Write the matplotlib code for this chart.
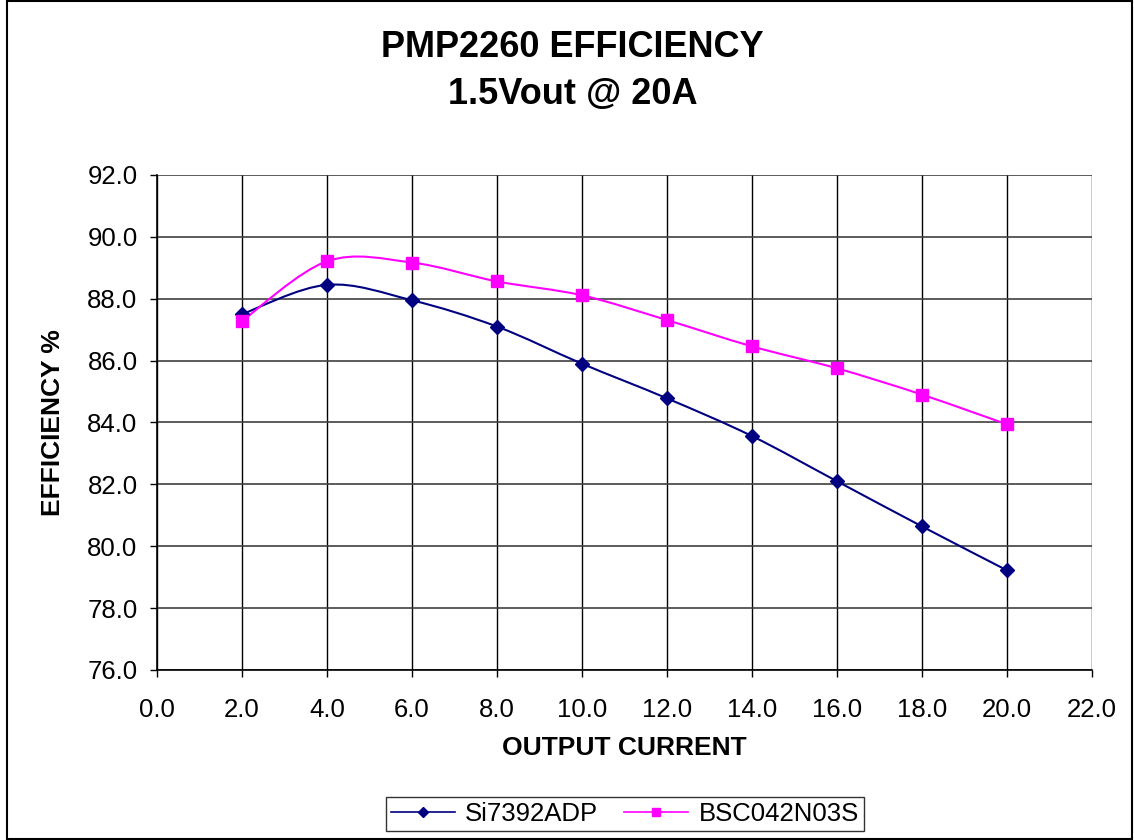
import matplotlib.pyplot as plt
import numpy as np
from matplotlib.path import Path
from matplotlib.patches import PathPatch, Rectangle
from matplotlib.lines import Line2D

plt.rcParams['font.family'] = ['Liberation Sans', 'DejaVu Sans']

current = [2.0, 4.0, 6.0, 8.0, 10.0, 12.0, 14.0, 16.0, 18.0, 20.0]
si7392 = [87.50, 88.45, 87.95, 87.10, 85.90, 84.78, 83.56, 82.10, 80.64, 79.22]
bsc042 = [87.28, 89.21, 89.17, 88.56, 88.11, 87.31, 86.46, 85.75, 84.90, 83.94]

series_names = ['Si7392ADP', 'BSC042N03S']
x_ticks = np.arange(0, 22.1, 2)
y_ticks = np.arange(76, 92.1, 2)


def smooth_path(x, y):
    # Excel-like smoothed line: cubic bezier through the points
    pts = np.column_stack([x, y])
    n = len(pts)
    verts = [pts[0]]
    codes = [Path.MOVETO]
    for i in range(n - 1):
        p0 = pts[i - 1] if i > 0 else pts[i]
        p3 = pts[i + 2] if i + 2 < n else pts[i + 1]
        c1 = pts[i] + (pts[i + 1] - p0) / 6
        c2 = pts[i + 1] - (p3 - pts[i]) / 6
        verts += [c1, c2, pts[i + 1]]
        codes += [Path.CURVE4] * 3
    return Path(verts, codes)


fig = plt.figure(figsize=(11.34, 8.4), dpi=100)
ax = fig.add_axes([0.1384, 0.2024, 0.963 - 0.1384, 0.7917 - 0.2024])

styles = [
    dict(color='#000080', marker='D', ms=7.5),
    dict(color='#FF00FF', marker='s', ms=8),
]
handles = []
for vals, name, st in zip([si7392, bsc042], series_names, styles):
    ax.add_patch(PathPatch(smooth_path(current, vals), fill=False,
                           edgecolor=st['color'], lw=1.5, zorder=3))
    ax.plot(current, vals, linestyle='none', marker=st['marker'],
            ms=st['ms'], color=st['color'], zorder=4)
    handles.append(Line2D([], [], color=st['color'], lw=1.2,
                          marker=st['marker'], ms=st['ms'] - 2, label=name))

ax.set_xlim(0, 22)
ax.set_ylim(76, 92)
ax.set_xticks(x_ticks)
ax.set_yticks(y_ticks)
ax.set_xticklabels([f'{v:.1f}' for v in x_ticks])
ax.set_yticklabels([f'{v:.1f}' for v in y_ticks])
ax.tick_params(labelsize=18.5, length=5, width=1, direction='out')
ax.tick_params(axis='x', pad=15)
ax.tick_params(axis='y', pad=9)

for v in x_ticks:
    ax.axvline(v, color='black', lw=1, zorder=1)
for v in y_ticks:
    ax.axhline(v, color='#404040', lw=1.2, zorder=1)

for s in ['top', 'right']:
    ax.spines[s].set_visible(False)
for s in ['left', 'bottom']:
    ax.spines[s].set_linewidth(1.2)

ax.set_xlabel('OUTPUT CURRENT', fontsize=19, fontweight='bold', labelpad=10)
ax.set_ylabel('EFFICIENCY %', fontsize=19, fontweight='bold', labelpad=16)

fig.text(0.505, 0.943, 'PMP2260 EFFICIENCY', ha='center', va='center',
         fontsize=26, fontweight='bold')
fig.text(0.505, 0.887, '1.5Vout @ 20A', ha='center', va='center',
         fontsize=26, fontweight='bold')

leg = fig.legend(handles=handles, loc='center', bbox_to_anchor=(0.551, 0.031),
                 ncol=2, fontsize=18.5, frameon=True, fancybox=False,
                 edgecolor='black', handlelength=2.5, columnspacing=1.0,
                 borderpad=0.2, handletextpad=0.4)
leg.get_frame().set_linewidth(1)

fig.patches.append(Rectangle((0.006, 0.001), 0.992, 0.998, transform=fig.transFigure,
                             fill=False, edgecolor='black', lw=1.5))

fig.savefig('out.png', dpi=100)
